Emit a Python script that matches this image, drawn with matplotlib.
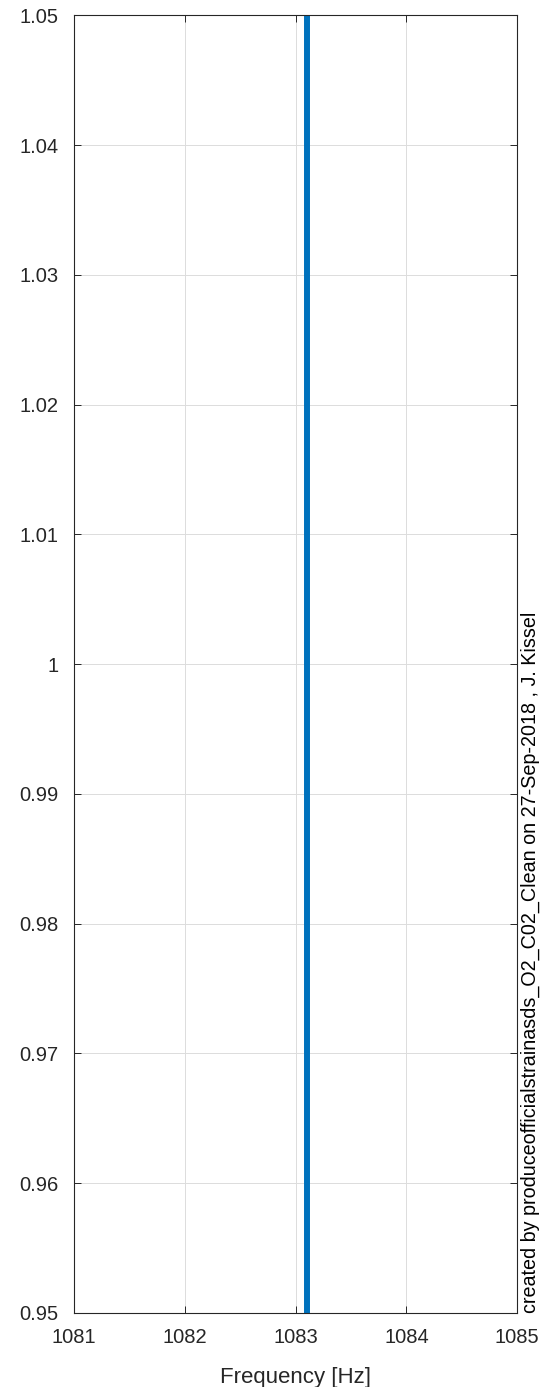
import numpy as np
import matplotlib
matplotlib.use('Agg')
import matplotlib.pyplot as plt

plt.rcParams['font.family'] = ['Liberation Sans', 'DejaVu Sans']

# vertical line data (frequency, ratio)
freq = [1083.1, 1083.1]
ratio = [0.9, 1.1]
xticks = [1081, 1082, 1083, 1084, 1085]
yticks = [0.95, 0.96, 0.97, 0.98, 0.99, 1.0, 1.01, 1.02, 1.03, 1.04, 1.05]
ylabels = ['0.95', '0.96', '0.97', '0.98', '0.99', '1', '1.01', '1.02', '1.03', '1.04', '1.05']
note = 'created by produceofficialstrainasds_O2_C02_Clean on 27-Sep-2018 , J. Kissel'

fig = plt.figure(figsize=(5.5, 13.87), dpi=100)
ax = fig.add_axes([0.1345, 0.0534, 0.806, 0.9356])
ax.plot(freq, ratio, color='#0072BD', lw=4.3)
ax.set_xlim(1081, 1085)
ax.set_ylim(0.95, 1.05)
ax.set_xticks(xticks)
ax.set_yticks(yticks)
ax.set_yticklabels(ylabels)
ax.grid(True, color='#dcdcdc', lw=0.7)
ax.set_axisbelow(True)
ax.tick_params(direction='in', length=5, width=0.7, color='#262626', labelsize=14.5,
               labelcolor='#262626', top=True, right=True)
ax.tick_params(axis='x', pad=11)
ax.tick_params(axis='y', pad=11)
for s in ax.spines.values():
    s.set_color('#262626')
    s.set_linewidth(0.8)
ax.set_xlabel('Frequency [Hz]', fontsize=16, color='#262626', labelpad=14)
fig.text(0.964, 0.0534, note, rotation=90, ha='center', va='bottom', fontsize=14.2, color='black')

fig.savefig('out.png', dpi=100)
